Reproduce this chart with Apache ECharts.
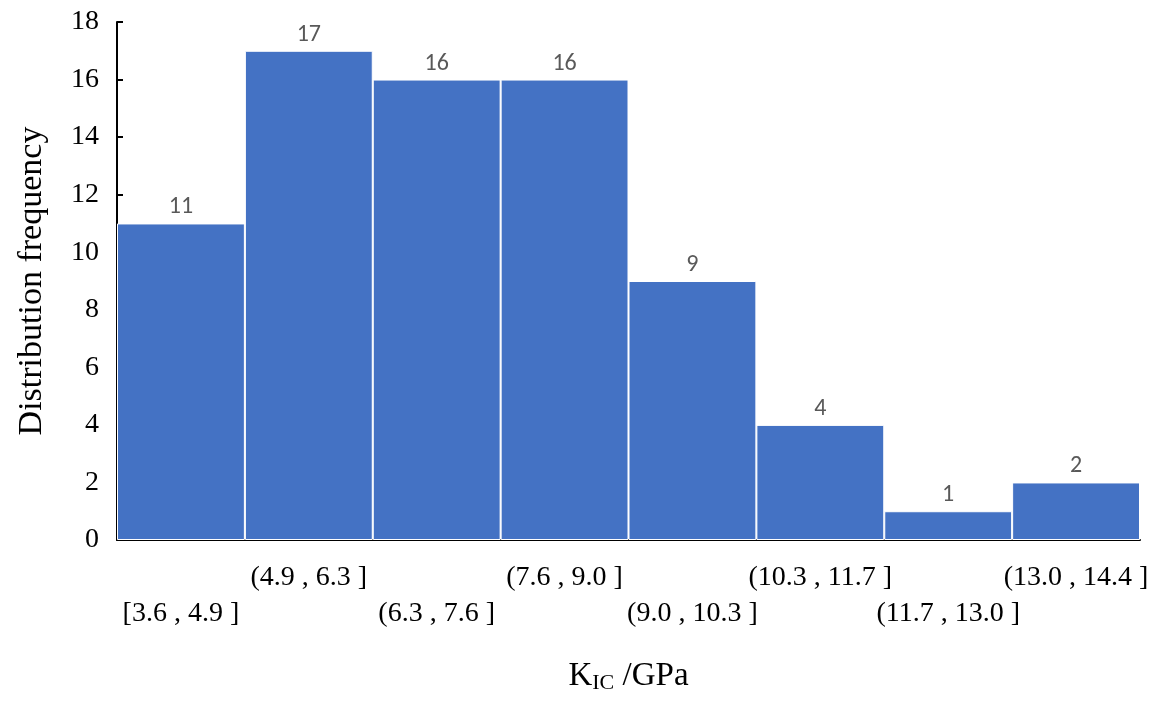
<!DOCTYPE html>
<html>
<head>
<meta charset="utf-8">
<title>KIC distribution</title>
<script src="https://cdn.jsdelivr.net/npm/echarts@6/dist/echarts.min.js"></script>
<style>
  html, body { margin: 0; padding: 0; background: #fff; overflow: hidden; }
  #chart { width: 100vw; height: 100vh; }
</style>
</head>
<body>
<div id="chart"></div>
<script>
// intervals of K_IC and how many samples fell in each
var bins = ['[3.6 , 4.9 ]', '(4.9 , 6.3 ]', '(6.3 , 7.6 ]', '(7.6 , 9.0 ]',
            '(9.0 , 10.3 ]', '(10.3 , 11.7 ]', '(11.7 , 13.0 ]', '(13.0 , 14.4 ]'];
var counts = [11, 17, 16, 16, 9, 4, 1, 2];

var serif = '"Liberation Serif", "Times New Roman", serif';

var chart = echarts.init(document.getElementById('chart'));
chart.setOption({
    animation: false,
    grid: { left: 117, right: 28, top: 22, bottom: 164 },
    xAxis: {
        type: 'category',
        data: bins,
        name: '{k|K}{s|IC}{k| /GPa}',
        nameLocation: 'middle',
        nameGap: 118,
        nameTextStyle: {
            rich: {
                k: { fontFamily: serif, fontSize: 33, color: '#000' },
                s: { fontFamily: serif, fontSize: 22, color: '#000', padding: [14, 0, 0, 0] }
            }
        },
        axisLine: { lineStyle: { color: '#000', width: 2 } },
        axisTick: { inside: true, length: 6, lineStyle: { color: '#000', width: 2 } },
        axisLabel: {
            interval: 0,
            margin: 20,
            lineHeight: 36,
            fontFamily: serif,
            fontSize: 28,
            color: '#000',
            // stagger labels: even ones drop to a second line
            formatter: function (v, i) { return i % 2 === 0 ? ' \n' + v : v; }
        }
    },
    yAxis: {
        type: 'value',
        min: 0,
        max: 18,
        interval: 2,
        name: 'Distribution frequency',
        nameLocation: 'middle',
        nameGap: 68,
        nameTextStyle: { fontFamily: serif, fontSize: 34, color: '#000' },
        axisLine: { show: true, lineStyle: { color: '#000', width: 2 } },
        axisTick: { show: true, inside: true, length: 6, lineStyle: { color: '#000', width: 2 } },
        axisLabel: { margin: 18, fontFamily: serif, fontSize: 28, color: '#000' },
        splitLine: { show: false }
    },
    series: [{
        type: 'bar',
        data: counts,
        barCategoryGap: '0%',
        itemStyle: { color: '#4472C4', borderColor: '#fff', borderWidth: 1 },
        label: {
            show: true,
            position: 'top',
            distance: 4,
            fontFamily: 'Carlito, Lato, "Liberation Sans", sans-serif',
            fontSize: 24,
            color: '#595959'
        }
    }]
});
</script>
</body>
</html>
